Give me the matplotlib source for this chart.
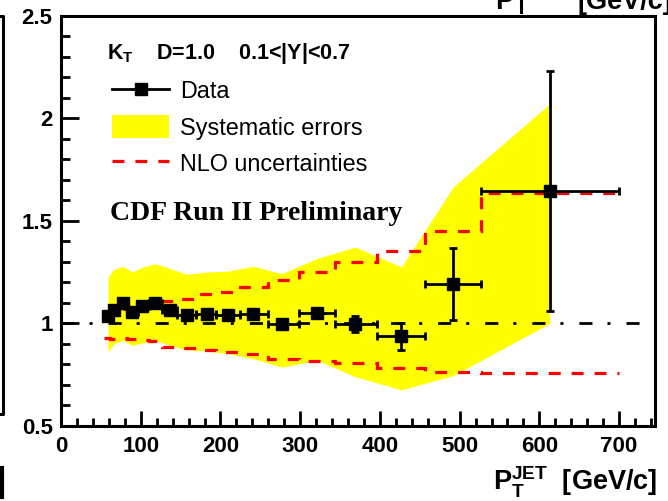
import matplotlib
matplotlib.use("Agg")
import matplotlib.pyplot as plt
import numpy as np
from matplotlib.lines import Line2D
from matplotlib.patches import Patch
from matplotlib.ticker import MultipleLocator

plt.rcParams['lines.scale_dashes'] = False
plt.rcParams['mathtext.fontset'] = 'custom'
plt.rcParams['mathtext.rm'] = 'Liberation Sans:bold'
plt.rcParams['mathtext.bf'] = 'Liberation Sans:bold'
plt.rcParams['mathtext.it'] = 'Liberation Sans:bold'

# ---------------- data ----------------
bin_edges = [54, 62, 72, 83, 96, 110, 127, 146, 169, 195, 224, 259, 298, 344, 396, 457, 527, 700]
data_x = [59, 66, 78, 89, 101, 118, 137, 158, 183, 210, 241, 277, 321, 369, 427, 492, 613]
data_y = [1.034, 1.063, 1.099, 1.055, 1.083, 1.099, 1.067, 1.039, 1.044, 1.039, 1.047,
          0.995, 1.052, 0.998, 0.937, 1.19, 1.644]
data_yerr = [0.004, 0.004, 0.004, 0.005, 0.005, 0.005, 0.006, 0.007, 0.008, 0.009, 0.011,
             0.014, 0.02, 0.04, 0.065, 0.175, 0.585]
sys_upper = [1.226, 1.262, 1.278, 1.25, 1.272, 1.291, 1.267, 1.239, 1.25, 1.255, 1.278,
             1.242, 1.316, 1.372, 1.275, 1.665, 2.07]
sys_lower = [0.86, 0.90, 0.917, 0.893, 0.904, 0.917, 0.893, 0.871, 0.865, 0.852, 0.828,
             0.787, 0.82, 0.74, 0.676, 0.746, 1.0]
nlo_upper = [1.05, 1.06, 1.07, 1.075, 1.09, 1.10, 1.11, 1.12, 1.145, 1.155, 1.178,
             1.213, 1.25, 1.30, 1.353, 1.45, 1.636]
nlo_lower = [0.93, 0.925, 0.93, 0.925, 0.92, 0.915, 0.885, 0.88, 0.87, 0.86, 0.85,
             0.825, 0.815, 0.805, 0.785, 0.765, 0.758]
xticks = [0, 100, 200, 300, 400, 500, 600, 700]
yticks = [0.5, 1.0, 1.5, 2.0, 2.5]
ytick_labels = ["0.5", "1", "1.5", "2", "2.5"]

# ---------------- figure ----------------
W, H = 668, 501
fig = plt.figure(figsize=(W / 100, H / 100), dpi=100)
L, R, T, B = 61, 655, 15.5, 426
ax = fig.add_axes([L / W, 1 - B / H, (R - L) / W, (B - T) / H])
ax.set_xlim(0, 745)
ax.set_ylim(0.5, 2.5)

def fpx(x, y):
    return x / W, 1 - y / H

# systematic band
xs = np.array(data_x, dtype=float)
ax.fill_between(xs, sys_lower, sys_upper, color='#ffff00', linewidth=0, zorder=1)

# reference line at 1
ax.axhline(1.0, color='black', lw=2.0, dashes=[9.4, 10.8, 2.2, 11.5], zorder=2)

# NLO uncertainties
for vals in (nlo_upper, nlo_lower):
    ax.stairs(vals, bin_edges, baseline=None, color='#ff0000', lw=2.3,
              linestyle=(0, (8.6, 7.9)), zorder=3)

# data
xerr_lo = [x - lo for x, lo in zip(data_x, bin_edges[:-1])]
xerr_hi = [hi - x for x, hi in zip(data_x, bin_edges[1:])]
ax.errorbar(data_x, data_y, yerr=data_yerr, xerr=[xerr_lo, xerr_hi], fmt='s',
            color='black', ms=8, elinewidth=2.0, capsize=2.9, capthick=2.0, zorder=5)

# axes style
for s in ax.spines.values():
    s.set_linewidth(2.2)
ax.xaxis.set_major_locator(MultipleLocator(100))
ax.xaxis.set_minor_locator(MultipleLocator(20))
ax.yaxis.set_major_locator(MultipleLocator(0.5))
ax.yaxis.set_minor_locator(MultipleLocator(0.1))
ax.tick_params(axis='x', which='major', direction='in', length=11, width=2, top=False, pad=7)
ax.tick_params(axis='x', which='minor', direction='in', length=5.5, width=2, top=False)
ax.tick_params(axis='y', which='major', direction='in', length=13, width=2, right=False, pad=6)
ax.tick_params(axis='y', which='minor', direction='in', length=6.5, width=2, right=False)
ax.set_xticks(xticks)
ax.set_xticklabels([str(v) for v in xticks])
ax.set_yticks(yticks)
ax.set_yticklabels(ytick_labels)
for lab in ax.get_xticklabels() + ax.get_yticklabels():
    lab.set_fontfamily('Liberation Sans')
    lab.set_fontweight('bold')
    lab.set_fontsize(16)

# header text
fig.text(*fpx(107, 59), r"K$_\mathregular{T}$    D=1.0    0.1<|Y|<0.7", fontsize=15.5,
         fontweight='bold', family='Liberation Sans', ha='left', va='baseline')

# legend
handles = [Line2D([], [], color='black', lw=2.0, marker='s', ms=8),
           Patch(facecolor='#ffff00', edgecolor='none'),
           Line2D([], [], color='#ff0000', lw=2.3, linestyle=(0, (8.6, 7.9)))]
labels = ["Data", "Systematic errors", "NLO uncertainties"]
leg = ax.legend(handles, labels, loc='upper left', bbox_to_anchor=fpx(112, 79),
                bbox_transform=fig.transFigure, frameon=False,
                prop={'family': 'Liberation Sans', 'size': 16.8},
                handlelength=2.45, handleheight=1.15, handletextpad=0.45,
                labelspacing=0.5, borderpad=0, borderaxespad=0)

fig.text(*fpx(110, 220), "CDF Run II Preliminary", fontsize=20, fontweight='bold',
         family='Liberation Serif', ha='left', va='baseline')

# x-axis label
fig.text(*fpx(657, 491), r"$\mathbf{P}_\mathbf{T}^\mathbf{JET}$  [GeV/c]", fontsize=19.5,
         fontweight='bold', family='Liberation Sans', ha='right', va='baseline')

# fragments of neighbouring panels
fig.text(*fpx(672, 9), "[GeV/c]", fontsize=19.5, fontweight='bold',
         family='Liberation Sans', ha='right', va='baseline')
fig.text(*fpx(495, 9), "P", fontsize=19.5, fontweight='bold',
         family='Liberation Sans', ha='left', va='baseline')
fig.add_artist(Line2D([521 / W, 521 / W], [1, 1 - 12 / H], color='black', lw=2.2,
                      transform=fig.transFigure))
fig.add_artist(Line2D([-0.01, 2.5 / W, 2.5 / W, -0.01],
                      [1 - 16 / H, 1 - 16 / H, 1 - 414 / H, 1 - 414 / H],
                      color='black', lw=2.2, transform=fig.transFigure))
fig.add_artist(Line2D([2 / W, 2 / W], [1 - 468 / H, 1 - 497 / H], color='black', lw=3.0,
                      transform=fig.transFigure))

fig.savefig("out.png", dpi=100)
